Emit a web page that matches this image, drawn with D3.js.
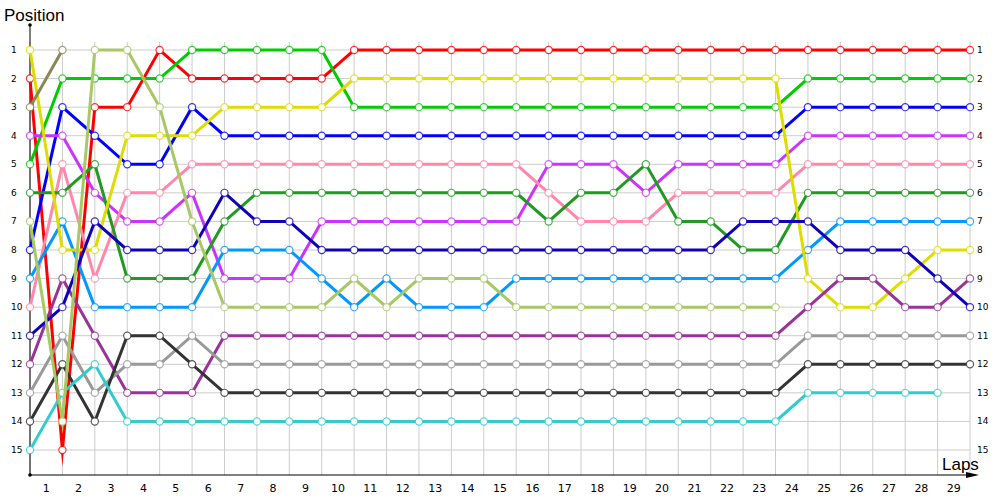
<!DOCTYPE html>
<html>

<head>
    <script src="https://cdnjs.cloudflare.com/ajax/libs/d3/7.8.5/d3.min.js"></script>
    <style>
        body {
            margin: 0;
            background: #fff;
        }

        .title {
            font-family: 'Liberation Sans', Arial;
            font-size: 17px;
            fill: #000;
        }

        .ylab {
            font-family: 'DejaVu Sans', Verdana;
            font-size: 9px;
            fill: #000;
        }

        .xlab {
            font-family: 'DejaVu Sans', Verdana;
            font-size: 11px;
            fill: #000;
        }
    </style>
</head>

<body>
    <script>
        // lap numbers: 0 is the grid (start), 1..29 are laps
        const laps = d3.range(0, 30)
        const positions = d3.range(1, 16)
        const lapLabels = d3.range(1, 30)

        // position of each car after each lap, null = not running
        const red = [2, 15, 3, 3, 1, 2, 2, 2, 2, 2, 1, 1, 1, 1, 1, 1, 1, 1, 1, 1, 1, 1, 1, 1, 1, 1, 1, 1, 1, 1]
        const green = [5, 2, 2, 2, 2, 1, 1, 1, 1, 1, 3, 3, 3, 3, 3, 3, 3, 3, 3, 3, 3, 3, 3, 3, 2, 2, 2, 2, 2, 2]
        const yellow = [1, 8, 8, 4, 4, 4, 3, 3, 3, 3, 2, 2, 2, 2, 2, 2, 2, 2, 2, 2, 2, 2, 2, 2, 9, 10, 10, 9, 8, 8]
        const blue = [8, 3, 4, 5, 5, 3, 4, 4, 4, 4, 4, 4, 4, 4, 4, 4, 4, 4, 4, 4, 4, 4, 4, 4, 3, 3, 3, 3, 3, 3]
        const violet = [4, 4, 6, 7, 7, 6, 9, 9, 9, 7, 7, 7, 7, 7, 7, 7, 5, 5, 5, 6, 5, 5, 5, 5, 4, 4, 4, 4, 4, 4]
        const pink = [10, 5, 9, 6, 6, 5, 5, 5, 5, 5, 5, 5, 5, 5, 5, 5, 6, 7, 7, 7, 6, 6, 6, 6, 5, 5, 5, 5, 5, 5]
        const darkgreen = [6, 6, 5, 9, 9, 9, 7, 6, 6, 6, 6, 6, 6, 6, 6, 6, 7, 6, 6, 5, 7, 7, 8, 8, 6, 6, 6, 6, 6, 6]
        const navy = [11, 10, 7, 8, 8, 8, 6, 7, 7, 8, 8, 8, 8, 8, 8, 8, 8, 8, 8, 8, 8, 8, 7, 7, 7, 8, 8, 8, 9, 10]
        const lightblue = [9, 7, 10, 10, 10, 10, 8, 8, 8, 9, 10, 9, 10, 10, 10, 9, 9, 9, 9, 9, 9, 9, 9, 9, 8, 7, 7, 7, 7, 7]
        const lightolive = [7, 14, 1, 1, 3, 7, 10, 10, 10, 10, 9, 10, 9, 9, 9, 10, 10, 10, 10, 10, 10, 10, 10, 10, null, null, null, null, null, null]
        const purple = [12, 9, 11, 13, 13, 13, 11, 11, 11, 11, 11, 11, 11, 11, 11, 11, 11, 11, 11, 11, 11, 11, 11, 11, 10, 9, 9, 10, 10, 9]
        const gray = [13, 11, 13, 12, 12, 11, 12, 12, 12, 12, 12, 12, 12, 12, 12, 12, 12, 12, 12, 12, 12, 12, 12, 12, 11, 11, 11, 11, 11, 11]
        const black = [14, 12, 14, 11, 11, 12, 13, 13, 13, 13, 13, 13, 13, 13, 13, 13, 13, 13, 13, 13, 13, 13, 13, 13, 12, 12, 12, 12, 12, 12]
        const cyan = [15, 13, 12, 14, 14, 14, 14, 14, 14, 14, 14, 14, 14, 14, 14, 14, 14, 14, 14, 14, 14, 14, 14, 14, 13, 13, 13, 13, 13, null]
        const olive = [3, 1, null, null, null, null, null, null, null, null, null, null, null, null, null, null, null, null, null, null, null, null, null, null, null, null, null, null, null, null]

        // drawn in finishing order, later ones on top
        const cars = [
            { color: '#ff0000', pos: red },
            { color: '#00cc00', pos: green },
            { color: '#0000ff', pos: blue },
            { color: '#cc33ff', pos: violet },
            { color: '#ff88aa', pos: pink },
            { color: '#229922', pos: darkgreen },
            { color: '#0099ff', pos: lightblue },
            { color: '#dddd00', pos: yellow },
            { color: '#993399', pos: purple },
            { color: '#1100bb', pos: navy },
            { color: '#999999', pos: gray },
            { color: '#333333', pos: black },
            { color: '#33cccc', pos: cyan },
            { color: '#a8c866', pos: lightolive },
            { color: '#888855', pos: olive }
        ]

        const w = 1000
        const h = 500

        const svg = d3.select('body')
            .append('svg')
            .attr('width', w)
            .attr('height', h)

        const x = d3.scaleLinear().domain([0, 29]).range([30, 970])
        const y = d3.scaleLinear().domain([1, 15]).range([50, 450])

        // grid
        svg.append('g').selectAll('line')
            .data(laps)
            .enter()
            .append('line')
            .attr('x1', d => x(d)).attr('x2', d => x(d))
            .attr('y1', 42).attr('y2', 475)
            .attr('stroke', '#cccccc')

        svg.append('g').selectAll('line')
            .data(positions)
            .enter()
            .append('line')
            .attr('x1', x(0)).attr('x2', x(29))
            .attr('y1', d => y(d)).attr('y2', d => y(d))
            .attr('stroke', '#cccccc')

        // axes
        svg.append('line')
            .attr('x1', 30).attr('x2', 30)
            .attr('y1', 25).attr('y2', 475)
            .attr('stroke', '#000')
        svg.append('line')
            .attr('x1', 30).attr('x2', 968)
            .attr('y1', 475).attr('y2', 475)
            .attr('stroke', '#000')
        svg.append('path')
            .attr('d', 'M966,472 L979,475 L966,478 Z')
            .attr('fill', '#000')
        svg.append('circle').attr('cx', 30).attr('cy', 25).attr('r', 1.8).attr('fill', '#000')
        svg.append('circle').attr('cx', 30).attr('cy', 475).attr('r', 1.8).attr('fill', '#000')

        // labels
        svg.append('g').selectAll('text')
            .data(positions)
            .enter()
            .append('text')
            .attr('class', 'ylab')
            .attr('x', 11)
            .attr('y', d => y(d) + 3)
            .text(d => d)

        svg.append('g').selectAll('text')
            .data(positions)
            .enter()
            .append('text')
            .attr('class', 'ylab')
            .attr('x', 977)
            .attr('y', d => y(d) + 3)
            .text(d => d)

        svg.append('g').selectAll('text')
            .data(lapLabels)
            .enter()
            .append('text')
            .attr('class', 'xlab')
            .attr('x', d => x(d - 0.5))
            .attr('y', 492)
            .attr('text-anchor', 'middle')
            .text(d => d)

        svg.append('text').attr('class', 'title').attr('x', 4).attr('y', 21).text('Position')
        svg.append('text').attr('class', 'title').attr('x', 942).attr('y', 470).text('Laps')

        // lines
        const line = d3.line()
            .defined(d => d != null)
            .x((d, i) => x(laps[i]))
            .y(d => y(d))

        const car = svg.append('g').selectAll('g')
            .data(cars)
            .enter()
            .append('g')

        car.append('path')
            .attr('d', d => line(d.pos))
            .attr('fill', 'none')
            .attr('stroke', d => d.color)
            .attr('stroke-width', 3)
            .attr('stroke-miterlimit', 20)

        car.each(function (c) {
            d3.select(this).selectAll('circle')
                .data(c.pos.map((p, i) => ({ lap: laps[i], p: p })).filter(d => d.p != null))
                .enter()
                .append('circle')
                .attr('cx', d => x(d.lap))
                .attr('cy', d => y(d.p))
                .attr('r', 3.6)
                .attr('fill', '#fff')
                .attr('stroke', c.color)
                .attr('stroke-opacity', 0.8)
                .attr('stroke-width', 1.2)
        })
    </script>
</body>

</html>
